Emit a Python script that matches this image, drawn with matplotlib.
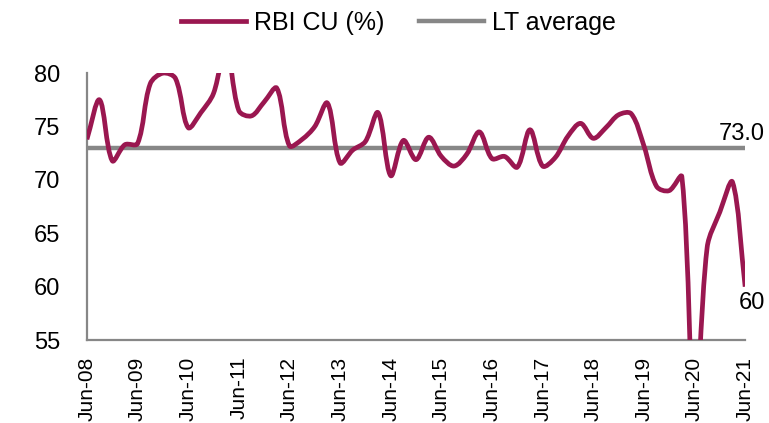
import numpy as np
import matplotlib.pyplot as plt
from matplotlib.path import Path
from matplotlib.patches import PathPatch
from matplotlib.lines import Line2D

plt.rcParams['font.family'] = ['Liberation Sans', 'DejaVu Sans']

# quarterly RBI capacity utilisation, Jun-08 .. Jun-21
cu = [73.8, 77.5, 71.8, 73.3, 73.4, 79.0, 80.0, 79.5, 74.9, 76.3,
      78.1, 82.5, 76.5, 76.0, 77.3, 78.6, 73.2, 73.8, 75.0, 77.2,
      71.6, 72.8, 73.6, 76.3, 70.4, 73.7, 71.9, 74.0, 72.2, 71.3,
      72.4, 74.5, 72.0, 72.2, 71.2, 74.7, 71.3, 72.1, 74.1, 75.3,
      73.9, 74.9, 76.1, 76.2, 73.2, 69.4, 69.0, 70.3, 47.3, 63.7,
      67.0, 69.8, 60.0]
lt_avg = 73.0
tick_labels = ["Jun-%02d" % y for y in range(8, 22)]

maroon = '#9A1750'
grey = '#878787'

fig = plt.figure(figsize=(7.69, 4.23), dpi=100)
ax = fig.add_axes([0.113, 0.196, 0.856, 0.631])

x = np.arange(len(cu))
n = len(x)
ax.set_xlim(0, n - 1)
ax.set_ylim(55, 80)

# smoothed line like excel: bezier segments, tangents scaled by segment length (in pixels)
pts = ax.transData.transform(np.column_stack([x, cu]))
verts = [pts[0]]
codes = [Path.MOVETO]
def seg(a, b):
    return np.hypot(*(pts[b] - pts[a]))
for i in range(n - 1):
    i0, i3 = max(i - 1, 0), min(i + 2, n - 1)
    d01, d12, d23 = seg(i0, i), seg(i, i + 1), seg(i + 1, i3)
    t1 = (pts[i + 1] - pts[i0]) * d12 / max(d01 + d12, 1e-9) / 3.0
    t2 = (pts[i3] - pts[i]) * d12 / max(d12 + d23, 1e-9) / 3.0
    verts += [pts[i] + t1, pts[i + 1] - t2, pts[i + 1]]
    codes += [Path.CURVE4] * 3
verts = ax.transData.inverted().transform(np.array(verts))
ax.add_patch(PathPatch(Path(verts, codes), fill=False, edgecolor=maroon,
                       lw=3.4, capstyle='butt', joinstyle='round', zorder=3))

ax.plot([x[0], x[-1]], [lt_avg, lt_avg], color=grey, lw=3.2, zorder=2)

ax.set_yticks([55, 60, 65, 70, 75, 80])
ax.set_xticks(x[::4])
ax.set_xticklabels(tick_labels, rotation=90)
ax.tick_params(axis='y', length=0, pad=19, labelsize=17)
ax.tick_params(axis='x', length=0, pad=12, labelsize=15)

for s in ['top', 'right']:
    ax.spines[s].set_visible(False)
for s in ['left', 'bottom']:
    ax.spines[s].set_color(grey)
    ax.spines[s].set_linewidth(1.6)

ax.annotate("%.1f" % lt_avg, (x[-1], lt_avg), xytext=(14, 2),
            textcoords='offset points', ha='right', va='bottom',
            fontsize=17, annotation_clip=False)
ax.annotate("%d" % round(cu[-1]), (x[-1], cu[-1]), xytext=(5, -4),
            textcoords='offset points', ha='center', va='top',
            fontsize=17, annotation_clip=False)

handles = [Line2D([], [], color=maroon, lw=3.4),
           Line2D([], [], color=grey, lw=3.2)]
fig.legend(handles, ['RBI CU (%)', 'LT average'], loc='center',
           bbox_to_anchor=(0.518, 0.946), ncol=2, frameon=False,
           fontsize=18, handlelength=2.6, handletextpad=0.3, columnspacing=1.4)

plt.savefig('out.png', dpi=100)
